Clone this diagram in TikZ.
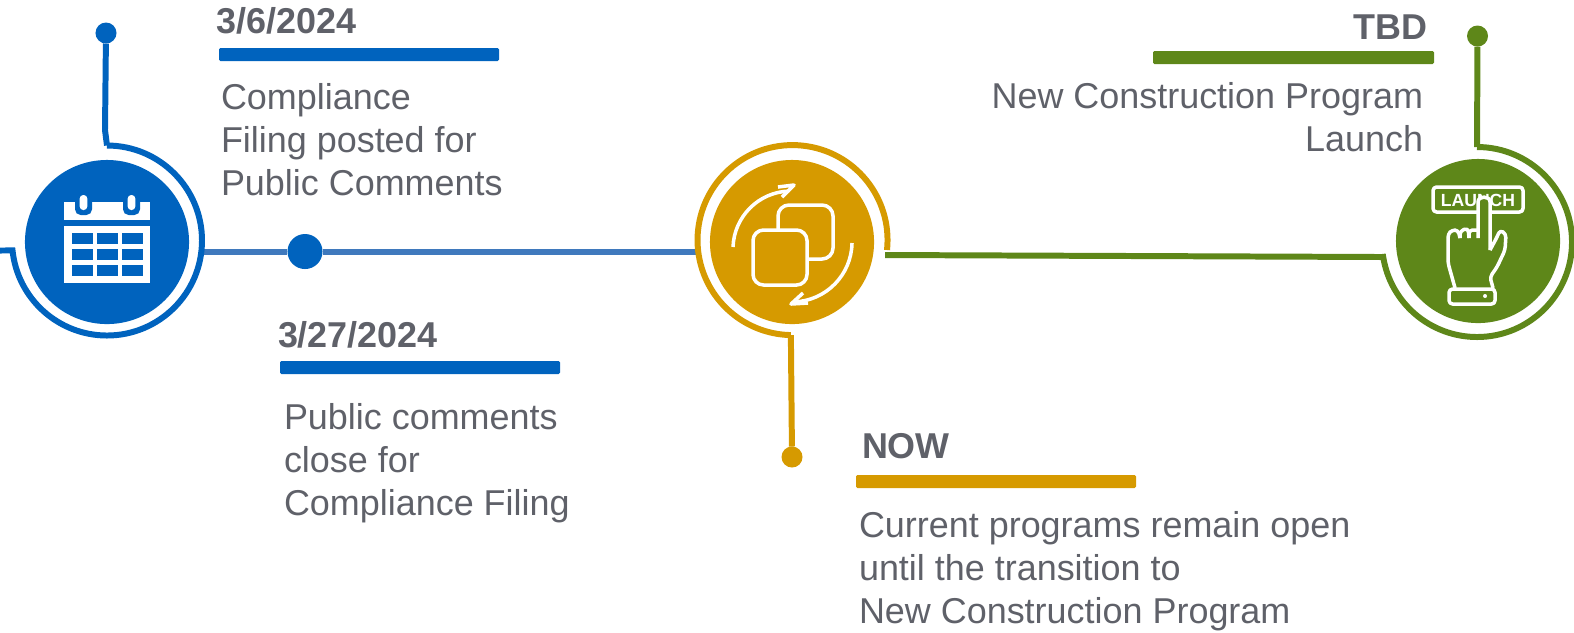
\documentclass[tikz,border=0pt]{standalone}
\usepackage{fontspec}
\setmainfont{Liberation Sans}
\definecolor{B}{HTML}{0063BE}
\definecolor{BL}{HTML}{3F79BD}
\definecolor{G}{HTML}{D69A00}
\definecolor{V}{HTML}{5E8719}
\definecolor{TX}{HTML}{5F6169}
\newcommand*{\bodyfont}{\fontsize{10.22}{12.23}\selectfont}
\newcommand*{\headfont}{\fontsize{10.22}{12.23}\selectfont\bfseries}
\tikzstyle{base}=[x=0.01cm, y=-0.01cm, inner sep=0pt, outer sep=0pt]
\tikzstyle{disc}=[circle, minimum size=1.64cm]
\tikzstyle{bigdot}=[circle, minimum size=0.35cm]
\tikzstyle{enddot}=[circle, minimum size=0.21cm]
\tikzstyle{ring}=[line width=1.7pt]
\tikzstyle{rib}=[rounded corners=0.4pt]
\tikzstyle{head}=[anchor=base west, text=TX, font=\headfont]
\tikzstyle{body}=[anchor=north west, align=left, text=TX, font=\bodyfont]
\tikzstyle{icon}=[white, line width=1pt, line join=round]

\begin{document}
\begin{tikzpicture}[base]
    \useasboundingbox (0,0) rectangle (1574,632);

    % discs
    \node [disc, fill=B] (calendar) at (107,242) {};
    \node [disc, fill=G] (cycle) at (792,242) {};
    \node [disc, fill=V] (launch) at (1478,241) {};

    % dots
    \node [enddot, fill=B] (dotcalendar) at (106,33) {};
    \node [bigdot, fill=B] (dotclose) at (305,251.5) {};
    \node [enddot, fill=G] (dotcycle) at (792,457) {};
    \node [enddot, fill=V] (dotlaunch) at (1477.5,36) {};

    % connectors
    \coordinate (calendarE) at (202,251.5);
    \coordinate (cycleW) at (697,251.5);
    \coordinate (cycleE) at (885,255);
    \coordinate (launchW) at (1382,257);
    \draw [BL, ring] (calendarE) -- (dotclose) -- (cycleW);
    \draw [V, ring] (cycleE) -- (launchW);

    % rings
    \draw [B, ring] (107,145.5) coordinate (calendarN) arc [start angle=270, end angle=534, radius=95] -- (0,250.5);
    \draw [B, ring] (dotcalendar) -- (105,130) -- (calendarN);
    \draw [G, ring] (887,250) arc [start angle=6, end angle=-269, radius=95] coordinate (cycleS);
    \draw [G, ring] (cycleS) -- (dotcycle);
    \draw [V, ring] (1477,147) coordinate (launchN) arc [start angle=270, end angle=531, radius=95] -- (launchW);
    \draw [V, ring] (dotlaunch) -- (launchN);

    % calendar
    \fill [white] (64,202) rectangle (150,220);
    \fill [white] (64,226) rectangle (150,283);
    \foreach \xa in {72,97,122} {
        \foreach \ya in {233,249,265} {
            \fill [B] (\xa,\ya) rectangle (\xa + 20.5,\ya + 10.5);
        }
    }
    \foreach \xa in {83.5,131.5} {
        \fill [B] (\xa - 8.5,202) {[rounded corners=1.6pt] -- (\xa - 8.5,215) -- (\xa + 8.5,215)} -- (\xa + 8.5,202) -- cycle;
        \fill [white, rounded corners=1pt] (\xa - 3.8,195) rectangle (\xa + 3.8,210);
    }

    % swap icon
    \draw [icon] (807,205) -- (822,205) to [out=0, in=90] (833,216) -- (833,248) to [out=-90, in=0] (822,259) -- (807,259);
    \draw [icon] (778,230) -- (778,216) to [out=90, in=180] (789,205) -- (807,205);
    \draw [icon, rounded corners=3pt] (753,230) rectangle (807,285);
    \draw [icon] (733,247) arc [start angle=182, end angle=268, radius=58];
    \draw [icon] (782,197) -- (794,185) -- (778,187);
    \draw [icon] (852,243) arc [start angle=1, end angle=88, radius=60];
    \draw [icon] (803,293) -- (791,304) -- (808,303);

    % launch icon
    \draw [icon, rounded corners=1pt] (1433,187) rectangle (1523,212);
    \node [white, font=\fontsize{5}{6}\selectfont\bfseries] (launchtext) at (1478,200) {LAUNCH};
    \draw [icon, fill=V] (1478,238) -- (1478,202) to [out=90, in=90, looseness=1.4] (1490,202) -- (1490,250);
    \draw [icon, rounded corners=1pt] (1490,250) -- (1497,237) -- (1500,230) -- (1506,234) -- (1505,250) -- (1497,267) -- (1490,277) -- (1493,288);
    \draw [icon, rounded corners=1pt] (1455,288) -- (1448,263) -- (1448,234) -- (1452,230) -- (1458,230) -- (1460,238);
    \draw [icon, rounded corners=1pt] (1460,238) -- (1460,231) -- (1468,228) -- (1469,238);
    \draw [icon, rounded corners=1pt] (1469,238) -- (1469,230) -- (1478,230);
    \draw [icon, rounded corners=1pt] (1449,289) rectangle (1495,304);
    \fill [white] (1485,296) circle (2);

    % bars
    \fill [B, rib] (219,48) rectangle (499,61);
    \fill [B, rib] (280,361) rectangle (560,374);
    \fill [G, rib] (856,475) rectangle (1136,488);
    \fill [V, rib] (1153,51) rectangle (1434,64);

    % texts
    \node [head] (datecalendar) at (216.5,33) {3/6/2024};
    \node [body] (textcalendar) at (221,83.5) {Compliance\\Filing posted for\\Public Comments};
    \node [head] (dateclose) at (278,347) {3/27/2024};
    \node [body] (textclose) at (284,403) {Public comments\\close for\\Compliance Filing};
    \node [head] (datecycle) at (862,458) {NOW};
    \node [body] (textcycle) at (859,511.5) {Current programs remain open\\until the transition to\\New Construction Program};
    \node [head, anchor=base east] (datelaunch) at (1427,39) {TBD};
    \node [body, anchor=north east, align=right] (textlaunch) at (1423,82) {New Construction Program\\Launch};
\end{tikzpicture}
\end{document}
